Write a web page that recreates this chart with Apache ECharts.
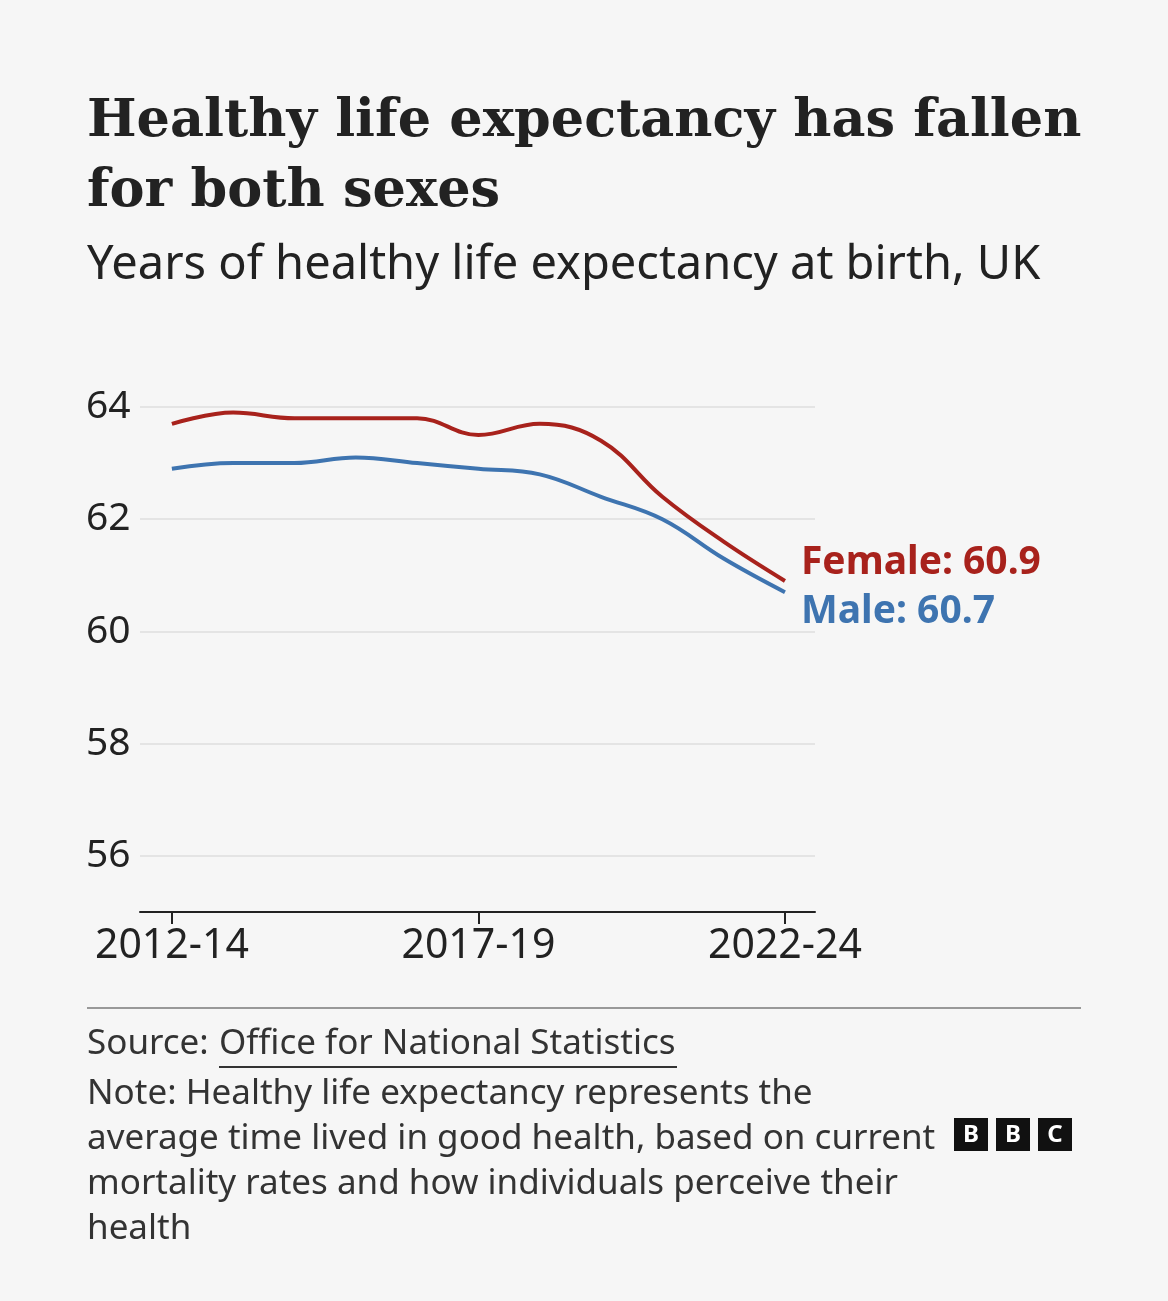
<!DOCTYPE html>
<html><head><meta charset="utf-8">
<script src="https://cdn.jsdelivr.net/npm/echarts@6/dist/echarts.min.js"></script>
<style>html,body{margin:0;padding:0;background:#f6f6f6}#c{width:1168px;height:1301px}</style>
</head><body><div id="c"></div>
<script>
const periods = ['2012-14','2013-15','2014-16','2015-17','2016-18','2017-19','2018-20','2019-21','2020-22','2021-23','2022-24'];
const female = [63.7,63.9,63.8,63.8,63.8,63.5,63.7,63.4,62.4,61.6,60.9];
const male = [62.9,63.0,63.0,63.1,63.0,62.9,62.8,62.4,62.0,61.3,60.7];
const yTicks = [56,58,60,62,64];
const xLabelIdx = [0,5,10];

const chart = echarts.init(document.getElementById('c'));
const FONT = 'Noto Sans';
const toPts = arr => arr.map((v,i)=>[i,v]);
const lbl = (name,color,dy) => ({show:true,formatter:p=>name+': '+p.value[1].toFixed(1),color:color,fontFamily:FONT,fontWeight:'bold',fontSize:39,offset:[8,dy]});
chart.setOption({
  backgroundColor:'#f6f6f6',
  animation:false,
  grid:{left:140,right:353,top:407,bottom:389},
  xAxis:{type:'value',min:-0.52,max:10.49,
    axisLine:{lineStyle:{color:'#222',width:2}},
    axisTick:{customValues:xLabelIdx,length:12,lineStyle:{color:'#222',width:2}},
    axisLabel:{customValues:xLabelIdx,formatter:v=>periods[Math.round(v)],fontFamily:FONT,fontSize:41,color:'#222',margin:14},
    splitLine:{show:false}},
  yAxis:{type:'value',min:55,max:64,
    axisLine:{show:false},
    axisTick:{show:false,customValues:yTicks},
    axisLabel:{customValues:yTicks,fontFamily:FONT,fontSize:39,color:'#222',align:'left',margin:54},
    splitLine:{show:true,lineStyle:{color:'#e4e4e4',width:2}}},
  series:[
    {type:'line',data:toPts(male),smooth:0.4,symbol:'none',lineStyle:{color:'#3e74b0',width:4},endLabel:lbl('Male','#3e74b0',20)},
    {type:'line',data:toPts(female),smooth:0.4,symbol:'none',lineStyle:{color:'#a8221c',width:4},endLabel:lbl('Female','#a8221c',-18)}
  ],
  graphic:[
    {type:'text',left:87,top:87,style:{text:'Healthy life expectancy has fallen\nfor both sexes',font:'bold 52.5px "DejaVu Serif"',fill:'#222',lineHeight:70}},
    {type:'text',left:87,top:242,style:{text:'Years of healthy life expectancy at birth, UK',font:'47px "Noto Sans"',fill:'#222'}},
    {type:'rect',shape:{x:87,y:1007,width:994,height:2},style:{fill:'#999'}},
    {type:'text',left:87,top:1027,style:{text:'Source:',font:'35px "Noto Sans"',fill:'#333'}},
    {type:'text',left:219,top:1027,style:{text:'Office for National Statistics',font:'35px "Noto Sans"',fill:'#333'}},
    {type:'rect',shape:{x:219,y:1066,width:458,height:2},style:{fill:'#333'}},
    {type:'text',left:87,top:1072,style:{text:'Note: Healthy life expectancy represents the\naverage time lived in good health, based on current\nmortality rates and how individuals perceive their\nhealth',font:'35px "Noto Sans"',fill:'#333',lineHeight:45}},
    {type:'group',left:954,top:1118,children:['B','B','C'].map((t,i)=>({type:'group',x:i*42,children:[
      {type:'rect',shape:{x:0,y:0,width:34,height:33},style:{fill:'#111'}},
      {type:'text',x:17,y:17,style:{text:t,font:'bold 24px "Noto Sans"',fill:'#fff',align:'center',verticalAlign:'middle'}}]}))}
  ]
});
</script></body></html>
